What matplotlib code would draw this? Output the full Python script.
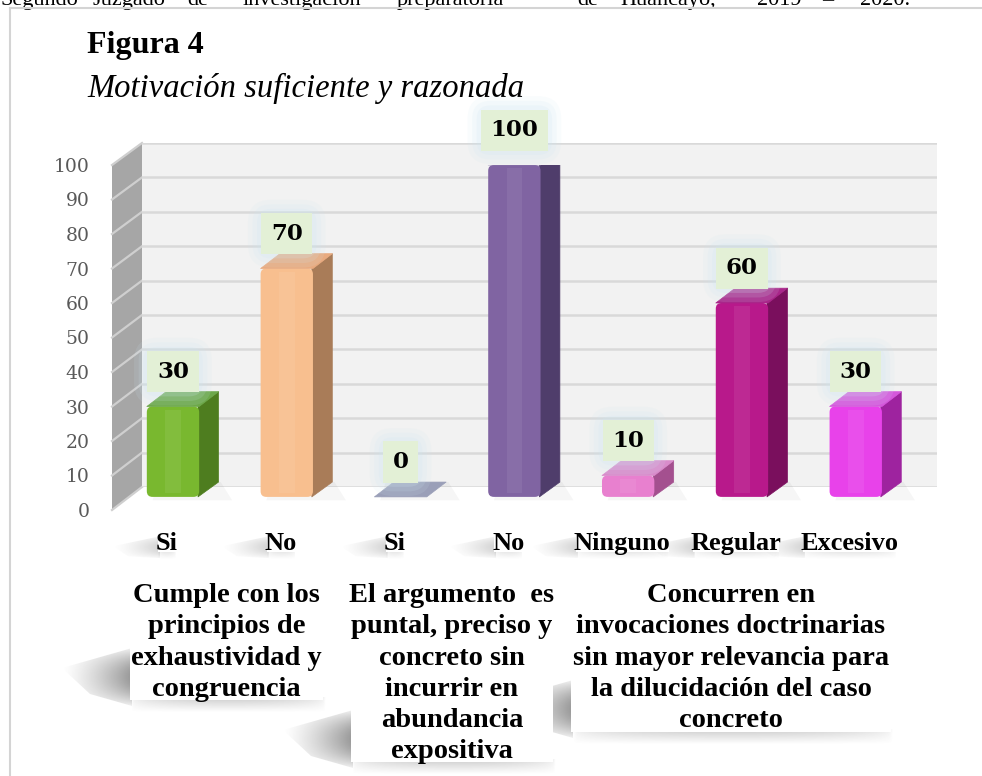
import numpy as np
import matplotlib.pyplot as plt
from matplotlib.patches import Polygon, Rectangle, FancyBboxPatch
from matplotlib.transforms import ScaledTranslation

W, H = 982, 776

# data
categories = ['Si', 'No', 'Si', 'No', 'Ninguno', 'Regular', 'Excesivo']
values = [30, 70, 0, 100, 10, 60, 30]
front_colors = ['#79b82f', '#f8bf8f', '#8b91ab', '#8064a2', '#e880cf', '#b8198b', '#e842ea']
side_colors = ['#4e7d1f', '#a97c58', '#6b7190', '#4f3d6b', '#a4508f', '#7a0f5d', '#9e239f']
top_colors = ['#6da84a', '#e9ab80', '#9a9fb8', '#8b7bab', '#d98ccb', '#a9268a', '#d558dc']
yticks = list(range(0, 101, 10))
group_labels = ['Cumple con los\nprincipios de\nexhaustividad y\ncongruencia',
                'El argumento  es\npuntal, preciso y\nconcreto sin\nincurrir en\nabundancia\nexpositiva',
                'Concurren en\ninvocaciones doctrinarias\nsin mayor relevancia para\nla dilucidación del caso\nconcreto']
fig_num = 'Figura 4'
fig_title = 'Motivación suficiente y razonada'
header_words = ['Segundo', 'Juzgado', 'de', 'investigación', 'preparatoria', 'de',
                'Huancayo,', '2019', '–', '2020.']

serif_b = {'family': 'Liberation Serif', 'weight': 'bold'}

fig = plt.figure(figsize=(W / 100, H / 100), dpi=100)


def px_box(x0, y0, x1, y1):
    return [x0 / W, 1 - y1 / H, (x1 - x0) / W, (y1 - y0) / H]


# overlay in pixel coords (origin top-left) for page decorations
bg = fig.add_axes([0, 0, 1, 1], zorder=0)
bg.set_xlim(0, W)
bg.set_ylim(H, 0)
bg.axis('off')

# back wall with the gridlines
ax_back = fig.add_axes(px_box(142, 143, 937, 487), zorder=1)
ax_back.set_facecolor('#f2f2f2')
ax_back.set_ylim(0, 100)
ax_back.set_yticks(yticks)
ax_back.set_xticks([])
ax_back.tick_params(left=False, labelleft=False)
ax_back.grid(axis='y', color='#d9d9d9', lw=1.8)
for s in ax_back.spines.values():
    s.set_visible(False)

# main plane: bars and value axis
ax = fig.add_axes(px_box(112, 165, 937, 510), zorder=2)
ax.set_facecolor('none')
ax.set_ylim(0, 100)
ax.set_xlim(-0.536, 6.714)
for s in ax.spines.values():
    s.set_visible(False)
ax.set_yticks(yticks)
ax.set_yticklabels([str(t) for t in yticks], family='DejaVu Serif', fontsize=13.5, color='#595959')
ax.tick_params(axis='y', length=0, pad=16)
ax.set_xticks(range(len(categories)))
ax.set_xticklabels(categories, fontsize=19, **serif_b)
ax.tick_params(axis='x', length=0, pad=16)
for lbl in ax.get_xticklabels():
    lbl.set_transform(lbl.get_transform() + ScaledTranslation(-0.06, 0, fig.dpi_scale_trans))

# left side wall
fig.canvas.draw()
to_px = lambda p: (p[0], H - p[1])
fb = to_px(ax.transData.transform((-0.536, 0)))
ft = to_px(ax.transData.transform((-0.536, 100)))
bb = to_px(ax_back.transAxes.transform((0, 0)))
bt = to_px(ax_back.transAxes.transform((0, 1)))
bg.add_patch(Polygon([fb, bb, bt, ft], closed=True, fc='#a6a6a6', ec='none', zorder=2))
for t in yticks:
    f = to_px(ax.transData.transform((-0.536, t)))
    b = to_px(ax_back.transData.transform((ax_back.get_xlim()[0], t)))
    bg.plot([f[0], b[0]], [f[1], b[1]], color='#cfcfcf', lw=1.6, zorder=3)

# 3D-looking bars
b0, bw, sx, sy = 3.8, 0.46, 0.17, 4.3
for i, (v, fc, sc, tc) in enumerate(zip(values, front_colors, side_colors, top_colors)):
    top = max(v, b0)
    x0, x1 = i - bw / 2, i + bw / 2
    # faint floor shadow
    ax.add_patch(Polygon([(x0 + 0.05, b0 - 1.0), (x1 + sx + 0.12, b0 - 1.0), (x1 + sx + 0.02, b0 + sy),
                          (x0 + 0.1, b0 + sy)], closed=True, fc='#000000', alpha=0.035, ec='none', zorder=1))
    if v > b0:
        ax.add_patch(Polygon([(x1 - 0.01, b0), (x1 + sx, b0 + sy), (x1 + sx, v + sy), (x1 - 0.01, v)],
                             closed=True, fc=sc, ec=sc, lw=0.5, joinstyle='round', zorder=2))
        ax.add_patch(FancyBboxPatch((x0, b0), bw, v - b0,
                                    boxstyle='round,pad=0,rounding_size=0.05',
                                    mutation_aspect=32.9, fc=fc, ec='none', zorder=3))
        ax.add_patch(Rectangle((x0 + bw * 0.35, b0 + 1), bw * 0.3, v - b0 - 2,
                               fc='white', alpha=0.07, ec='none', zorder=4))
    ax.add_patch(Polygon([(x0, top), (x0 + sx, top + sy), (x1 + sx, top + sy), (x1, top)],
                         closed=True, fc=tc, ec=tc, lw=0.5, joinstyle='round', zorder=5))
    # value label with soft glow
    ly = top + sy + 5.8
    for pad, a in [(1.0, 0.12), (0.8, 0.15), (0.6, 0.2)]:
        ax.text(i, ly, str(v), ha='center', va='center', fontsize=16.5, family='DejaVu Serif',
                weight='bold', color='none', zorder=6,
                bbox=dict(boxstyle='round,pad=%s' % pad, fc='#cfe7f1', ec='none', alpha=a))
    ax.text(i, ly, str(v), ha='center', va='center', fontsize=16.5, family='DejaVu Serif',
            weight='bold', color='black', zorder=7,
            bbox=dict(boxstyle='square,pad=0.42', fc='#e3f0d6', ec='none'))


def soft_shadow(pts, ramp='x', alpha=0.55):
    xs, ys = zip(*pts)
    n = 80
    gx = np.linspace(0, 1, n) ** 1.3
    gy = np.sin(np.linspace(0.15, np.pi - 0.15, n))
    if ramp == 'x':
        a = np.outer(gy, gx)
    else:
        a = np.outer(np.linspace(1, 0, n), np.sin(np.linspace(0, np.pi, n)) ** 0.4)
    rgba = np.zeros((n, n, 4))
    rgba[..., :3] = 0.42
    rgba[..., 3] = a * alpha
    im = bg.imshow(rgba, extent=(min(xs), max(xs), max(ys), min(ys)), aspect='auto',
                   interpolation='bilinear', zorder=1)
    clip = Polygon(pts, closed=True, fc='none', ec='none', transform=bg.transData)
    bg.add_patch(clip)
    im.set_clip_path(clip)


# shadows + white boxes for the category labels
for lbl in ax.get_xticklabels():
    e = lbl.get_window_extent(fig.canvas.get_renderer())
    l, r = e.x0 + 2, e.x1 - 2
    t, b = H - e.y1 + 4, H - e.y0 - 3
    soft_shadow([(l - 45, b - 6), (l + 2, b - 16), (l + 2, b + 6), (l - 30, b + 4)], alpha=0.3)
    soft_shadow([(l, b - 2), (r, b - 2), (r, b + 7), (l, b + 7)], ramp='y', alpha=0.2)
    bg.add_patch(Rectangle((l, t), r - l, b - t, fc='white', ec='none', zorder=4))

# group labels with their boxes and shadows
group_boxes = [(130, 578, 323, 700), (351, 578, 553, 762), (571, 578, 891, 732)]
for txt, (l, t, r, b) in zip(group_labels, group_boxes):
    soft_shadow([(l - 68, b - 32), (l + 2, b - 52), (l + 2, b + 6), (l - 40, b - 6)], alpha=0.7)
    soft_shadow([(l, b - 3), (r + 4, b - 3), (r + 4, b + 12), (l, b + 12)], ramp='y', alpha=0.35)
    bg.add_patch(Rectangle((l, t), r - l, b - t, fc='white', ec='none', zorder=4))
    bg.text((l + r) / 2, t + 5, txt, ha='center', va='top', multialignment='center',
            fontsize=20.5, linespacing=1.33, zorder=5, **serif_b)

# titles
bg.text(87, 46, fig_num, fontsize=23, va='center', zorder=5, **serif_b)
bg.text(87, 88, fig_title, fontsize=23.5, va='center', style='italic', family='Liberation Serif', zorder=5)

# clipped header line of the page
word_x = [0, 93, 187, 243, 397, 577, 620, 757, 822, 860]
for wtxt, wx in zip(header_words, word_x):
    bg.text(wx, 5, wtxt, fontsize=16, family='Liberation Serif', va='baseline', zorder=5)

# page frame
bg.plot([10, 10], [H, 8], color='#d4d4d4', lw=1.5, zorder=5)
bg.plot([10, W], [8, 8], color='#d4d4d4', lw=1.5, zorder=5)

bg.set_xlim(0, W)
bg.set_ylim(H, 0)
fig.savefig('out.png', dpi=100)
